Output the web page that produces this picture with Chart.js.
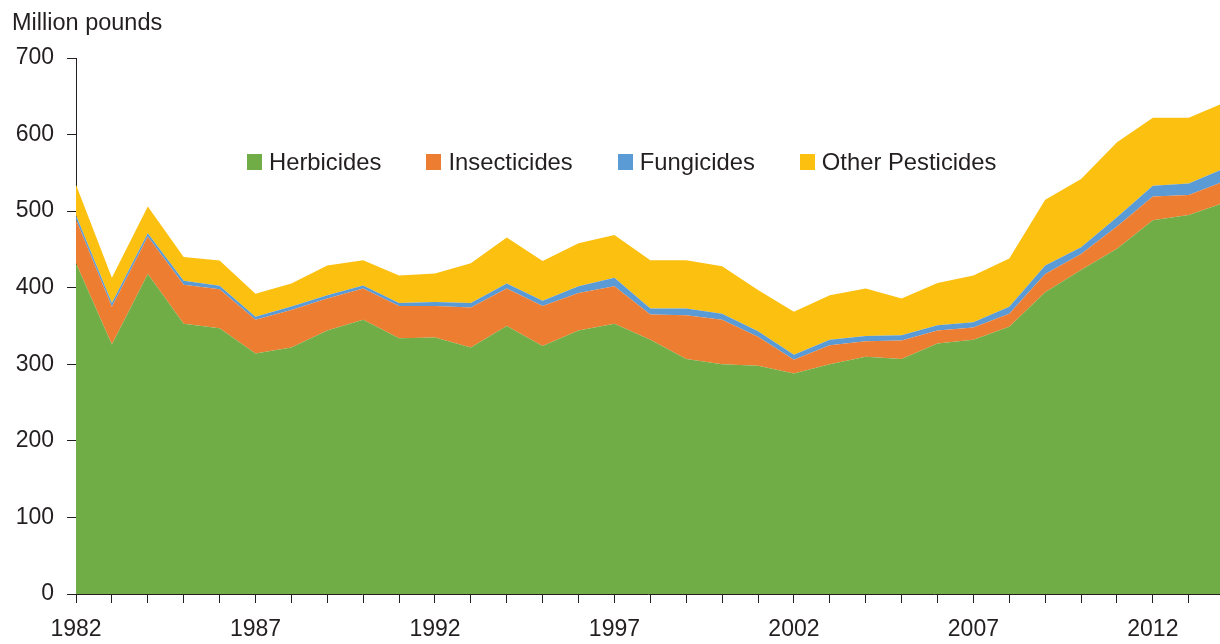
<!DOCTYPE html>
<html>
<head>
<meta charset="utf-8">
<title>Pesticide use, million pounds</title>
<script src="https://cdn.jsdelivr.net/npm/chart.js@4.4.0/dist/chart.umd.min.js"></script>
<style>
  html, body { margin: 0; padding: 0; background: #fff; overflow: hidden; }
  #wrap { position: relative; width: 1220px; height: 644px; font-family: "Liberation Sans", Arial, sans-serif; color: #231f20; }
  #unit { position: absolute; left: 12px; top: 11px; font-size: 23.5px; line-height: 23.5px; white-space: nowrap; }
  #legend { position: absolute; left: 247px; top: 150px; display: flex; gap: 45px; font-size: 23.8px; line-height: 24px; white-space: nowrap; }
  .item { display: flex; align-items: center; }
  .swatch { width: 15px; height: 16px; margin-right: 7px; }
  canvas { position: absolute; left: 0; top: 0; }
</style>
</head>
<body>
<div id="wrap">
  <canvas id="chart" width="1220" height="644"></canvas>
  <div id="unit">Million pounds</div>
  <div id="legend"></div>
</div>
<script>
'use strict';

// ── Данные ────────────────────────────────────────────
const years = [1982, 1983, 1984, 1985, 1986, 1987, 1988, 1989, 1990, 1991, 1992,
               1993, 1994, 1995, 1996, 1997, 1998, 1999, 2000, 2001, 2002, 2003,
               2004, 2005, 2006, 2007, 2008, 2009, 2010, 2011, 2012, 2013, 2014];

const herbicides      = [432, 326, 418, 353, 347, 314, 322, 344, 358, 334, 335,
                         322, 350, 324, 344, 353, 332, 307, 300, 298, 288, 300,
                         310, 307, 327, 332, 349, 394, 423, 451, 488, 495, 511];
const insecticides    = [57, 49, 49, 51, 51, 44, 49, 42, 41, 42, 41,
                         52, 49, 52, 49, 49, 33, 57, 58, 38, 18, 25,
                         20, 24, 17, 16, 17, 24, 21, 29, 31, 26, 28];
const fungicides      = [5.5, 5, 4, 5, 4.5, 4, 4.5, 4, 4, 4, 5.5,
                         6, 6.5, 7, 9, 11, 8, 9, 8, 7, 6.5, 7,
                         7, 7, 7, 7, 9, 11, 9, 12, 14, 15, 17];
const otherPesticides = [40, 33, 35, 31, 33, 30, 30, 39, 33, 36, 37,
                         52, 60, 52, 56, 56, 63, 63, 62, 54, 56, 58,
                         62, 48, 55, 61, 63, 86, 89, 98, 89, 86, 86];

const seriesNames  = ['Herbicides', 'Insecticides', 'Fungicides', 'Other Pesticides'];
const xLabelYears  = [1982, 1987, 1992, 1997, 2002, 2007, 2012];
const yTicks       = [0, 100, 200, 300, 400, 500, 600, 700];

// картинка обрезана справа чуть раньше 2014 года
const xMin = 1982;
const xMax = 2013.87;

const seriesValues = [herbicides, insecticides, fungicides, otherPesticides];
const colors = ['#70ad47', '#ed7d31', '#5b9bd5', '#fcc010'];
const ink = '#231f20';

// ── Легенда ───────────────────────────────────────────
document.getElementById('legend').innerHTML = seriesNames.map((name, i) => `
  <div class="item"><span class="swatch" style="background:${colors[i]}"></span><span>${name}</span></div>
`).join('');

// ── График ────────────────────────────────────────────
Chart.defaults.font.family = '"Liberation Sans", Arial, sans-serif';
Chart.defaults.font.size = 23;
Chart.defaults.color = ink;

new Chart(document.getElementById('chart'), {
  type: 'line',
  data: {
    datasets: seriesNames.map((name, i) => ({
      label: name,
      data: years.map((y, j) => ({ x: y, y: seriesValues[i][j] })),
      backgroundColor: colors[i],
      borderColor: 'rgba(0,0,0,0)',
      borderWidth: 0,
      pointRadius: 0,
      pointHoverRadius: 0,
      tension: 0,
      fill: i === 0 ? 'origin' : '-1',
    })),
  },
  options: {
    responsive: false,
    devicePixelRatio: 1,
    animation: false,
    layout: { padding: { top: 58, right: 0, bottom: 0, left: 0 } },
    plugins: {
      legend: { display: false },
      tooltip: { enabled: false },
    },
    scales: {
      x: {
        type: 'linear',
        min: xMin,
        max: xMax,
        afterBuildTicks: (s) => { s.ticks = years.filter((y) => y <= xMax).map((v) => ({ value: v })); },
        afterFit: (s) => { s.height = 50; },
        grid: { drawOnChartArea: false, tickLength: 9, color: ink },
        border: { color: ink, width: 1 },
        ticks: {
          autoSkip: false,
          maxRotation: 0,
          padding: 13,
          callback: (v) => (xLabelYears.includes(v) ? String(v) : ''),
        },
      },
      y: {
        stacked: true,
        min: 0,
        max: 700,
        afterBuildTicks: (s) => { s.ticks = yTicks.map((v) => ({ value: v })); },
        afterFit: (s) => { s.width = 76; },
        grid: { drawOnChartArea: false, tickLength: 9, color: ink },
        border: { color: ink, width: 1 },
        ticks: { padding: 13 },
      },
    },
  },
});
</script>
</body>
</html>
